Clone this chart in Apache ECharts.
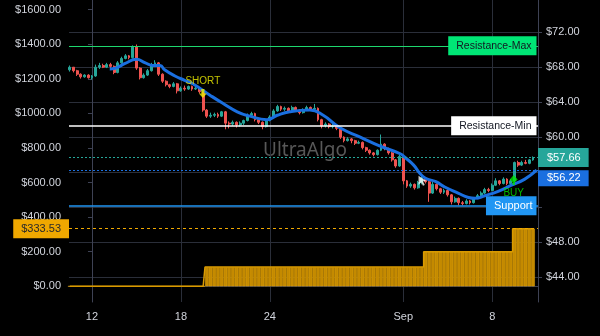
<!DOCTYPE html>
<html><head><meta charset="utf-8">
<script src="https://cdn.jsdelivr.net/npm/echarts@6/dist/echarts.min.js"></script>
<style>html,body{margin:0;padding:0;background:#000}#c{width:600px;height:336px}</style>
</head><body><div id="c"></div>
<script>
// candle times: day offsets from Aug 12, one candle every 6 hours
const T0 = -1.5, STEP = 0.25;
// [open, close, low, high]
const ohlc = [
[67.7,68.0,67.5,68.2],[68.0,67.6,67.4,68.0],[67.6,67.2,67.0,67.7],[67.2,66.9,66.7,67.3],[66.9,67.1,66.8,67.2],
[67.1,66.8,66.7,67.2],[66.8,67.0,66.6,67.1],[67.0,68.0,66.9,68.3],[68.0,68.2,67.8,68.5],[68.2,68.0,67.9,68.4],
[68.0,68.3,67.9,68.5],[68.3,68.1,67.9,68.5],[68.1,67.4,67.2,68.2],[67.4,68.5,67.3,68.7],[68.5,69.0,68.4,69.2],
[69.0,69.3,68.9,69.5],[69.3,69.1,68.9,69.4],[69.1,70.3,69.0,70.5],[70.3,67.9,67.7,70.6],[67.9,66.8,66.6,68.0],
[66.8,67.1,66.7,67.3],[67.1,67.6,67.0,67.8],[67.6,68.3,67.5,68.5],[68.3,68.5,68.1,68.8],[68.5,67.2,67.0,68.6],
[67.2,66.4,66.2,67.3],[66.4,66.0,65.8,66.5],[66.0,65.8,65.6,66.1],[65.8,66.1,65.7,66.3],[66.1,65.3,65.0,66.2],
[65.3,65.6,65.2,65.8],[65.6,65.5,65.3,65.9],[65.5,65.8,65.4,65.9],[65.8,65.5,65.3,65.9],[65.5,65.6,65.4,65.8],
[65.6,65.2,65.0,65.7],[65.2,63.1,62.9,65.3],[63.1,62.4,62.2,63.2],[62.4,62.5,62.2,62.8],[62.5,62.6,62.3,62.8],
[62.6,62.4,62.2,62.8],[62.4,62.9,62.3,63.0],[62.9,61.6,60.9,63.0],[61.6,61.5,61.0,61.8],[61.5,61.7,61.3,61.9],
[61.7,61.4,61.1,61.8],[61.4,61.6,61.2,61.8],[61.6,61.9,61.4,62.0],[61.9,62.5,61.8,62.7],[62.5,62.7,62.3,62.9],
[62.7,62.0,61.8,62.8],[62.0,61.7,61.5,62.1],[61.7,61.2,60.9,61.8],[61.2,61.9,61.1,62.0],[61.9,62.3,61.8,62.5],
[62.3,63.0,62.2,63.2],[63.0,63.5,62.9,63.7],[63.5,63.2,63.0,63.6],[63.2,63.3,63.0,63.5],[63.3,63.0,62.8,63.4],
[63.0,63.4,62.9,63.6],[63.4,63.1,62.9,63.5],[63.1,62.8,62.6,63.2],[62.8,63.1,62.7,63.3],[63.1,63.4,63.0,63.6],
[63.4,63.2,63.0,63.5],[63.2,63.3,63.1,63.8],[63.3,62.0,61.8,63.4],[62.0,61.3,61.0,62.1],[61.3,61.5,61.1,61.7],
[61.5,61.2,61.0,61.6],[61.2,61.3,61.0,61.5],[61.3,61.0,60.8,61.4],[61.0,60.0,59.8,61.1],[60.0,59.6,59.4,60.1],
[59.6,59.8,59.5,60.0],[59.8,59.6,59.3,59.9],[59.6,59.3,59.1,59.7],[59.3,59.4,59.2,59.6],[59.4,58.8,58.6,59.5],
[58.8,58.5,58.3,58.9],[58.5,58.2,58.0,58.6],[58.2,58.0,57.8,58.3],[58.0,58.5,57.9,58.6],[58.5,59.2,58.4,60.3],
[59.2,58.7,58.5,59.3],[58.7,58.2,58.0,58.8],[58.2,57.4,57.2,58.3],[57.4,56.7,56.5,57.5],[56.7,57.8,56.6,58.0],
[57.8,55.0,54.6,57.9],[55.0,54.4,54.2,55.1],[54.4,54.6,54.2,54.8],[54.6,54.2,54.0,54.7],[54.2,54.8,54.1,55.0],
[54.8,55.3,54.6,55.6],[55.3,54.9,54.7,55.4],[54.9,53.6,52.6,55.0],[53.6,54.6,53.5,54.9],[54.6,54.1,53.9,54.7],
[54.1,53.7,53.5,54.2],[53.7,53.9,53.5,54.1],[53.9,53.4,53.2,54.0],[53.4,52.6,52.3,53.5],[52.6,53.0,52.5,53.2],
[53.0,52.5,52.2,53.1],[52.5,52.4,52.2,52.7],[52.4,52.7,52.3,52.9],[52.7,52.5,52.3,52.8],[52.5,53.0,52.4,53.1],
[53.0,53.3,52.9,53.5],[53.3,53.6,53.2,53.8],[53.6,54.0,53.5,54.2],[54.0,53.9,53.7,54.2],[53.9,54.5,53.8,54.7],
[54.5,55.0,54.4,55.3],[55.0,54.7,54.5,55.1],[54.7,55.2,54.6,55.4],[55.2,54.7,54.5,55.3],[54.7,55.0,54.6,55.2],
[55.0,57.1,54.9,57.2],[57.1,56.8,56.6,57.3],[56.8,57.1,56.7,57.3],[57.1,57.0,56.9,57.4],[57.0,57.4,56.9,57.5],
[57.4,57.66,57.3,57.8]
];
// position size histogram (left axis, $) per candle
const position = [
0,0,0,0,0,0,0,0,0,0,0,0,0,0,0,0,0,0,0,0,0,0,0,0,0,0,0,0,0,0,0,0,0,0,0,0,0,
111,111,111,111,111,111,111,111,111,111,111,111,111,111,111,111,111,111,111,111,
111,111,111,111,111,111,111,111,111,111,111,111,111,111,111,111,111,111,111,111,
111,111,111,111,111,111,111,111,111,111,111,111,111,111,111,111,111,111,111,
200,200,200,200,200,200,200,200,200,200,200,200,200,200,200,200,200,200,200,200,200,200,200,200,
333.53,333.53,333.53,333.53,333.53,333.53
];
// moving average [day, value]
const maPoints = [[1.2,67.8],[1.6,67.9],[2.2,68.4],[3.0,68.9],[3.6,68.5],[4.1,68.2],[4.6,68.2],[4.9,67.7],
[5.6,67.0],[6.25,66.5],[6.8,66.1],[7.96,64.8],[8.8,63.9],[9.8,62.9],[10.65,62.4],[11.8,62.0],[12.5,62.5],
[13.35,62.9],[14.7,63.1],[15.6,62.5],[16.7,61.1],[18.1,60.0],[19.4,59.0],[20.8,58.1],[21.1,57.7],[21.7,56.8],
[22.1,55.9],[22.5,55.3],[23.2,54.9],[23.8,54.3],[24.7,53.6],[25.4,53.1],[25.85,53.0],[26.5,53.3],[27.4,53.8],
[28.3,54.5],[29.2,55.2],[30.0,56.22]];
const xTickDays = [0,6,12,21,27];
const xTickLabels = ['12','18','24','Sep','8'];
const rightTicks = [44,48,52,56,60,64,68,72];
const rightLabels = [44,48,60,64,68,72]; // 52 and 56 sit behind the price tags
const leftTicks = [0,200,400,600,800,1000,1200,1400,1600];
const resistanceMax = 70.45, resistanceMin = 61.30, lastPrice = 57.66, maLast = 56.22, support = 52.16;
const positionLevel = 333.53;
const signalNames = ['SHORT','EXIT','BUY'];
const signalDays = [7.48, 22.3, 28.45];
const signalPrices = [65.0, 55.0, 55.1];

const FONT = 'Liberation Sans';
const textC = '#d1d4dc', gridC = '#2a2e39', axisC = '#3e4254';
const times = ohlc.map((_, i) => T0 + i * STEP);
const money = v => '$' + v.toFixed(2);
function box(bg, fg, pos, txt, extra) {
  return Object.assign({show: true, position: pos, formatter: txt, backgroundColor: bg, color: fg,
    fontFamily: FONT, fontSize: 11, lineHeight: 13, padding: [3, 8, 3, 9], distance: 0}, extra || {});
}
const hidden = {opacity: 0};
const sigStyle = [
  {color: '#f0f000', symbol: 'path://M3,0 L7,0 L7,5 L10,5 L5,10 L0,5 L3,5 Z', size: [8, 9], label: 'top'},
  {color: '#ffffff', symbol: 'path://M0,0 L0,10 L3,7 L5,11 L7,10 L5,6 L9,6 Z', size: [8, 10], label: null},
  {color: '#00e600', symbol: 'path://M5,0 L10,5 L6.5,8 L6.5,11 L3.5,11 L3.5,8 L0,5 Z', size: [8, 10], label: 'bottom'}
];

const chart = echarts.init(document.getElementById('c'));
chart.setOption({
  backgroundColor: '#000',
  animation: false,
  textStyle: {fontFamily: FONT},
  grid: {left: 69, right: 62, top: 0, bottom: 34},
  graphic: [{type: 'text', left: 263, top: 141, z: 0, silent: true,
    style: {text: 'UltraAlgo', fill: '#585858', font: '19px "Noto Sans"'}}],
  xAxis: {
    type: 'value', min: -1.55, max: 30.09,
    axisLine: {show: true, lineStyle: {color: axisC}},
    axisTick: {show: false, customValues: xTickDays},
    axisLabel: {customValues: xTickDays, color: textC, fontSize: 11, margin: 9,
      formatter: v => { const i = xTickDays.indexOf(v); return i >= 0 ? xTickLabels[i] : ''; }},
    splitLine: {show: true, lineStyle: {color: gridC}}
  },
  yAxis: [
    {type: 'value', position: 'left', min: -90.8, max: 1656,
      axisLine: {show: true, lineStyle: {color: axisC}},
      axisTick: {show: true, length: 4, customValues: leftTicks, lineStyle: {color: axisC}},
      axisLabel: {customValues: leftTicks, formatter: money, color: textC, fontSize: 11, margin: 8},
      splitLine: {show: false}},
    {type: 'value', position: 'right', min: 41.14, max: 75.69,
      axisLine: {show: true, lineStyle: {color: axisC}},
      axisTick: {show: true, length: 4, customValues: rightTicks, lineStyle: {color: axisC}},
      axisLabel: {customValues: rightLabels, formatter: money, color: textC, fontSize: 11, margin: 8},
      splitLine: {show: true, lineStyle: {color: gridC}}}
  ],
  series: [
    {type: 'bar', yAxisIndex: 0, z: 1, barWidth: 3.7,
      data: times.map((t, i) => [t, position[i]]),
      itemStyle: {color: '#c48a00', borderColor: '#e3a20a', borderWidth: 0.5},
      markLine: {silent: true, symbol: ['none', 'none'],
        data: [{yAxis: positionLevel, lineStyle: {color: '#f0a800', type: [3, 3], width: 1},
          label: box('#f0a800', '#2a2a2a', 'start', money(positionLevel), {padding: [3, 8, 3, 8]})}]}},
    {type: 'line', yAxisIndex: 0, z: 1, step: 'middle', showSymbol: false,
      data: times.map((t, i) => [t, position[i]]),
      lineStyle: {color: '#d99a00', width: 1.5}},
    {type: 'candlestick', yAxisIndex: 1, z: 3, barWidth: 2.4,
      data: times.map((t, i) => [t].concat(ohlc[i])),
      encode: {x: 0, y: [1, 2, 3, 4]},
      itemStyle: {color: '#26a69a', color0: '#ef5350', borderColor: '#26a69a', borderColor0: '#ef5350'},
      markLine: {silent: true, symbol: ['none', 'none'],
        data: [
          {yAxis: resistanceMax, lineStyle: {color: '#1ed76e', width: 1, type: 'solid'},
            label: box('#00e676', '#131722', 'insideEnd', 'Resistance-Max', {distance: 1.5, padding: [3, 5, 3, 8], fontSize: 10.5})},
          {yAxis: resistanceMax, lineStyle: hidden, label: box('#00e676', '#131722', 'end', money(resistanceMax))},
          {yAxis: resistanceMin, lineStyle: {color: '#ffffff', width: 1.5, type: 'solid'},
            label: box('#ffffff', '#131722', 'insideEnd', 'Resistance-Min', {distance: 1.5, padding: [3, 5, 3, 8], fontSize: 10.5})},
          {yAxis: resistanceMin, lineStyle: hidden, label: box('#ffffff', '#131722', 'end', money(resistanceMin))},
          {yAxis: lastPrice, lineStyle: {color: '#26a69a', width: 1, type: [2, 2]},
            label: box('#26a69a', '#ffffff', 'end', money(lastPrice))},
          {yAxis: support, lineStyle: {color: '#2196f3', width: 1.5, type: 'solid'},
            label: box('#2196f3', '#ffffff', 'insideEnd', 'Support', {distance: 1.5, padding: [3, 4, 3, 8]})},
          {yAxis: support, lineStyle: hidden, label: box('#2196f3', '#ffffff', 'end', money(support))}
        ]}},
    {type: 'line', yAxisIndex: 1, z: 4, smooth: true, showSymbol: false,
      data: maPoints, lineStyle: {color: '#1a6fe0', width: 3},
      markLine: {silent: true, symbol: ['none', 'none'],
        data: [
          {yAxis: maLast, lineStyle: {color: '#1a6fe0', width: 1, type: [2, 2]},
            label: box('#1a6fe0', '#ffffff', 'end', money(maLast), {verticalAlign: 'top', padding: [1, 8, 2, 9]})}
        ]}},
    {type: 'scatter', yAxisIndex: 1, z: 5,
      data: signalNames.map((n, i) => ({
        value: [signalDays[i], signalPrices[i]],
        symbol: sigStyle[i].symbol, symbolSize: sigStyle[i].size,
        itemStyle: {color: sigStyle[i].color},
        label: sigStyle[i].label ? {show: true, position: sigStyle[i].label, distance: 3, formatter: n,
          color: sigStyle[i].color, fontSize: 10, fontFamily: FONT} : {show: false}
      }))}
  ]
});
</script></body></html>
